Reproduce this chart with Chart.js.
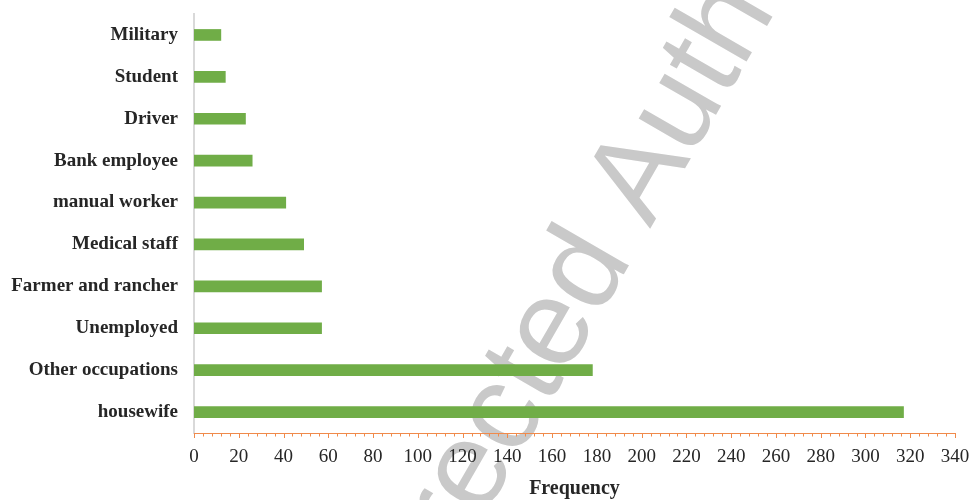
<!DOCTYPE html>
<html>
<head>
<meta charset="utf-8">
<script src="https://cdn.jsdelivr.net/npm/chart.js@4/dist/chart.umd.min.js"></script>
<style>
  html, body { margin: 0; padding: 0; background: #ffffff; }
  #chart { display: block; }
</style>
</head>
<body>
<canvas id="chart" width="972" height="500"></canvas>
<script>
// Occupations, listed top to bottom
const occupations = [
  'Military', 'Student', 'Driver', 'Bank employee', 'manual worker',
  'Medical staff', 'Farmer and rancher', 'Unemployed', 'Other occupations', 'housewife'
];
// Number of respondents per occupation
const frequencies = [12, 14, 23, 26, 41, 49, 57, 57, 178, 317];
// Frequency axis range and spacing
const freqMin = 0;
const freqMax = 340;
const majorStep = 20;
const minorStep = 4;
const axisTitle = 'Frequency';
const watermarkLead = 'Uncorrected ';
const watermarkTail = 'Author Proof';

const serif = "'Liberation Serif', 'Times New Roman', serif";
const textColor = '#262626';
const axisOrange = '#F08A4B';

// Faint diagonal watermark behind the chart
const watermark = {
  id: 'watermark',
  beforeDraw(chart) {
    const ctx = chart.ctx;
    ctx.save();
    ctx.translate(650, 229);
    ctx.rotate(-60 * Math.PI / 180);
    ctx.font = "123px 'Liberation Sans', Arial, sans-serif";
    ctx.fillStyle = '#c9c9c9';
    ctx.textBaseline = 'alphabetic';
    ctx.textAlign = 'right';
    ctx.fillText(watermarkLead, 0, 0);
    ctx.textAlign = 'left';
    ctx.fillText(watermarkTail, 0, 0);
    ctx.restore();
  }
};

// Major and minor tick marks under the frequency axis
const axisTicks = {
  id: 'axisTicks',
  afterDraw(chart) {
    const x = chart.scales.x;
    const ctx = chart.ctx;
    const y0 = chart.chartArea.bottom;
    ctx.save();
    ctx.strokeStyle = axisOrange;
    ctx.lineWidth = 1;
    ctx.beginPath();
    for (let v = freqMin; v <= freqMax; v += minorStep) {
      const px = Math.round(x.getPixelForValue(v)) + 0.5;
      const len = (v % majorStep === 0) ? 5 : 3.5;
      ctx.moveTo(px, y0);
      ctx.lineTo(px, y0 + len);
    }
    ctx.stroke();
    ctx.restore();
  }
};

new Chart(document.getElementById('chart'), {
  type: 'bar',
  data: {
    labels: occupations,
    datasets: [{
      label: axisTitle,
      data: frequencies,
      backgroundColor: '#70AD47',
      borderWidth: 0,
      barThickness: 11
    }]
  },
  options: {
    indexAxis: 'y',
    responsive: false,
    animation: false,
    layout: { padding: { top: 14, right: 17, bottom: 0, left: 0 } },
    plugins: {
      legend: { display: false },
      tooltip: { enabled: false }
    },
    scales: {
      x: {
        type: 'linear',
        min: freqMin,
        max: freqMax,
        afterFit(scale) {
          scale.height = 67;
          scale.paddingLeft = 0;
          scale.paddingRight = 0;
        },
        ticks: {
          stepSize: majorStep,
          maxRotation: 0,
          autoSkip: false,
          padding: 13,
          color: textColor,
          font: { family: serif, size: 19 }
        },
        grid: { display: false, drawTicks: false },
        border: { display: true, color: axisOrange, width: 1 },
        title: {
          display: true,
          text: axisTitle,
          color: textColor,
          padding: { top: 0, bottom: -1 },
          font: { family: serif, size: 20, weight: 'bold' }
        }
      },
      y: {
        afterFit(scale) {
          scale.width = 194;
          scale.paddingTop = 0;
          scale.paddingBottom = 0;
        },
        ticks: {
          padding: 16,
          color: textColor,
          font: { family: serif, size: 19, weight: 'bold' }
        },
        grid: { display: false, drawTicks: false },
        border: { display: true, color: '#d9d9d9', width: 2 }
      }
    }
  },
  plugins: [watermark, axisTicks]
});
</script>
</body>
</html>
